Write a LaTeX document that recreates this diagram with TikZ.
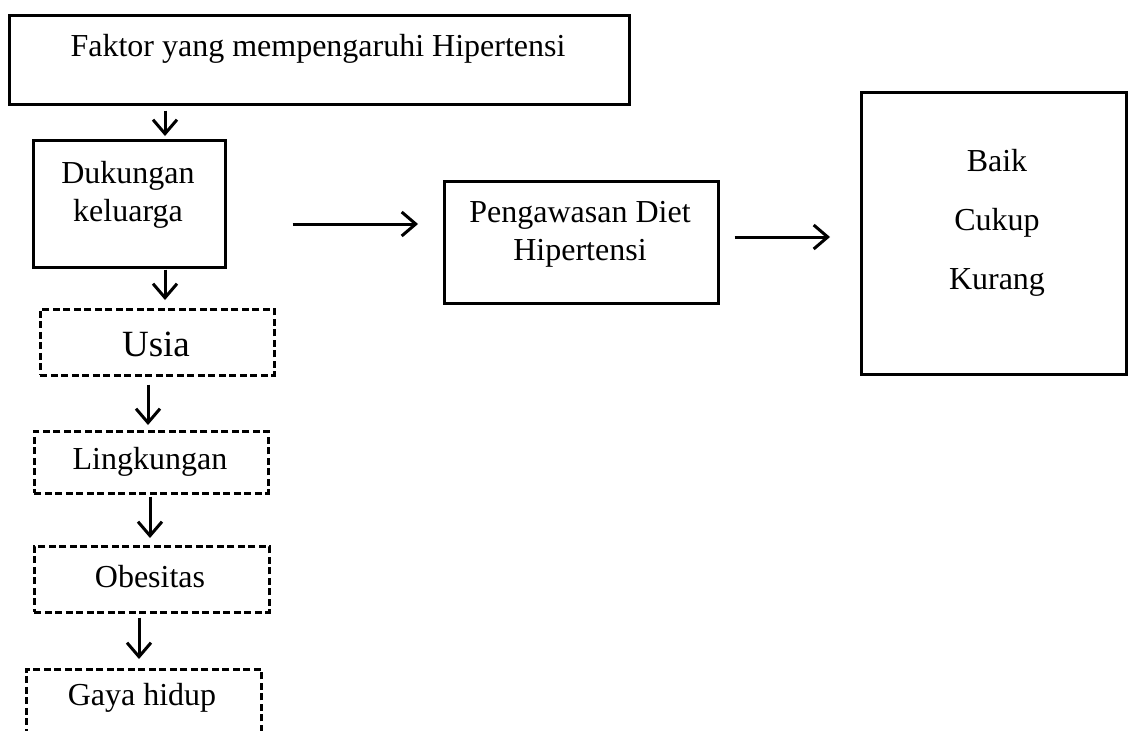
\documentclass[tikz,border=0pt]{standalone}
\usepackage{fontspec}
\setmainfont{Liberation Serif}
\usetikzlibrary{arrows.meta}
\begin{document}
\begin{tikzpicture}[x=1pt,y=-1pt,
  solidbox/.style={draw, line width=2.6pt, inner sep=0pt},
  dashbox/.style={draw, line width=2.5pt, dash pattern=on 7pt off 3.5pt, inner sep=0pt},
  txt/.style={font=\fontsize{32}{38}\selectfont, inner sep=0pt, align=center},
  arr/.style={line width=3pt, -{Straight Barb[length=14pt,width=24pt,line width=3pt]}}]
\useasboundingbox (0,0) rectangle (1133,731);
\begin{scope}
\clip (0,0) rectangle (1133,731);
% boxes
\node[solidbox, anchor=north west, minimum width=620pt, minimum height=89pt] (top) at (8,14) {};
\node[solidbox, anchor=north west, minimum width=192pt, minimum height=127pt] (duk) at (32,139) {};
\node[dashbox, anchor=north west, minimum width=234pt, minimum height=66pt] (usia) at (39,308) {};
\node[dashbox, anchor=north west, minimum width=234pt, minimum height=62pt] (ling) at (33,430) {};
\node[dashbox, anchor=north west, minimum width=235pt, minimum height=66pt] (obes) at (33,545) {};
\node[dashbox, anchor=north west, minimum width=235pt, minimum height=90pt] (gaya) at (25,668) {};
\node[solidbox, anchor=north west, minimum width=274pt, minimum height=122pt] (peng) at (443,180) {};
\node[solidbox, anchor=north west, minimum width=265pt, minimum height=282pt] (hasil) at (860,91) {};
% texts
\node[txt] (ttop) at (318,49) {Faktor yang mempengaruhi Hipertensi};
\node[txt] (tduk) at (128,195) {Dukungan\\keluarga};
\node[txt, font=\fontsize{37}{44}\selectfont] (tusia) at (156,344) {Usia};
\node[txt] (tling) at (150,462) {Lingkungan};
\node[txt] (tobes) at (150,577) {Obesitas};
\node[txt] (tgaya) at (142,698) {Gaya hidup};
\node[txt] (tpeng) at (580,234) {Pengawasan Diet\\Hipertensi};
\node[txt] (thasil) at (997,223) {Baik\\[21pt]Cukup\\[21pt]Kurang};
% connector x positions
\coordinate (c1) at (165,0);
\coordinate (c2) at (165,0);
\coordinate (c3) at (148,0);
\coordinate (c4) at (150,0);
\coordinate (c5) at (139,0);
\coordinate (h1) at (0,224);
\coordinate (h2) at (0,237);
% vertical arrows
\draw[arr, shorten <=5pt, shorten >=3pt] (top.south -| c1) -- (duk.north -| c1);
\draw[arr, shorten <=1pt, shorten >=8pt] (duk.south -| c2) -- (usia.north -| c2);
\draw[arr, shorten <=8pt, shorten >=5pt] (usia.south -| c3) -- (ling.north -| c3);
\draw[arr, shorten <=2pt, shorten >=7pt] (ling.south -| c4) -- (obes.north -| c4);
\draw[arr, shorten <=4pt, shorten >=9pt] (obes.south -| c5) -- (gaya.north -| c5);
% horizontal arrows
\draw[arr, shorten <=66pt, shorten >=25pt] (duk.east |- h1) -- (peng.west |- h1);
\draw[arr, shorten <=15pt, shorten >=30pt] (peng.east |- h2) -- (hasil.west |- h2);
\end{scope}
\end{tikzpicture}
\end{document}
